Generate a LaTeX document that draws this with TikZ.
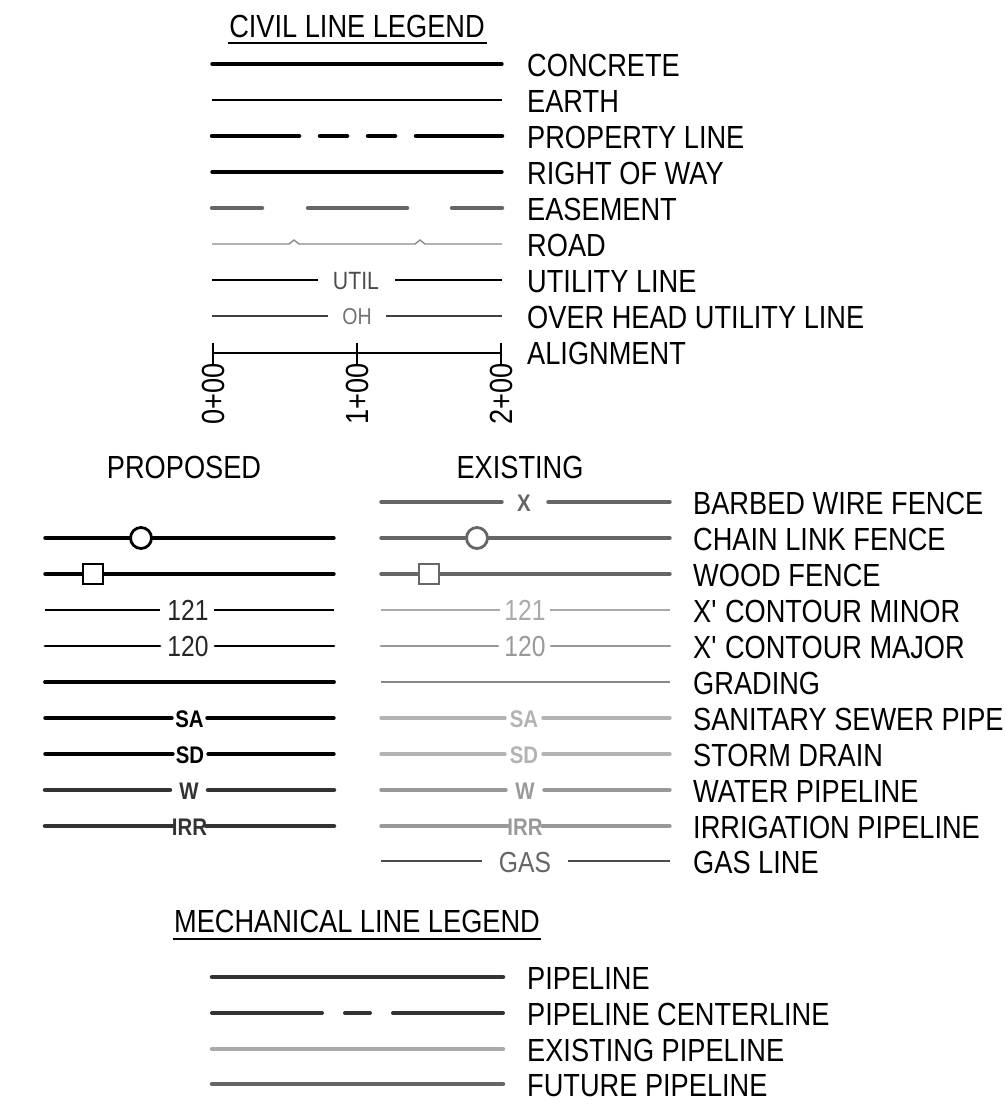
\documentclass[tikz,border=0pt]{standalone}
\usepackage{fontspec}
\setmainfont{Liberation Sans}[FakeStretch=0.85]
\definecolor{gA}{HTML}{666666}
\definecolor{gB}{HTML}{888888}
\definecolor{gC}{HTML}{999999}
\definecolor{gD}{HTML}{AAAAAA}
\definecolor{gE}{HTML}{B3B3B3}
\definecolor{dk}{HTML}{333333}
\begin{document}
\begin{tikzpicture}[x=1pt,y=-1pt,
  lbl/.style={anchor=base west, inner sep=0, font=\fontsize{32}{36}\selectfont},
  hdr/.style={anchor=base, inner sep=0, font=\fontsize{32}{36}\selectfont},
  num/.style={anchor=base, inner sep=0, font=\fontsize{29}{32}\selectfont},
  sml/.style={anchor=base, inner sep=0, font=\fontsize{25}{28}\selectfont},
  bld/.style={anchor=base, inner sep=0, font=\bfseries\fontsize{24}{27}\selectfont},
  thk/.style={line width=3.4pt, line cap=round},
  hvy/.style={line width=4.5pt, line cap=round},
  thn/.style={line width=1.5pt},
  sym/.style={line width=2.8pt, fill=white},
]
\useasboundingbox (0,0) rectangle (1005,1106);

% ---------------- CIVIL LINE LEGEND ----------------
\node[hdr] (civil) at (357,37) {CIVIL LINE LEGEND};
\draw[line width=1.6pt] (228,43) -- (487,43);

% concrete
\draw[thk] (212,64) -- (502,64);
\node[lbl] (t1) at (527,76) {CONCRETE};
% earth
\draw[line width=1.8pt] (212,100) -- (502,100);
\node[lbl] (t2) at (527,112) {EARTH};
% property line
\draw[hvy] (212,136) -- (299,136) (320,136) -- (347,136) (368,136) -- (395,136) (416,136) -- (502,136);
\node[lbl] (t3) at (527,148) {PROPERTY LINE};
% right of way
\draw[thk] (212,172) -- (502,172);
\node[lbl] (t4) at (527,184) {RIGHT OF WAY};
% easement
\draw[hvy, gA] (212,208) -- (262,208) (308,208) -- (407,208) (452,208) -- (502,208);
\node[lbl] (t5) at (527,220) {EASEMENT};
% road
\draw[line width=1.4pt, gB] (212,244) -- (289,244) -- (294,240) -- (299,244) -- (415,244) -- (420,240) -- (425,244) -- (502,244);
\node[lbl] (t6) at (527,256) {ROAD};
% utility line
\node[sml, text=black!70] (util) at (356,289) {UTIL};
\draw[thn] (212,280) -- (318,280) (395,280) -- (502,280);
\node[lbl] (t7) at (527,292) {UTILITY LINE};
% overhead
\node[sml, font=\fontsize{23}{26}\selectfont, text=black!55] (oh) at (357,324) {OH};
\draw[line width=1.3pt, black!75] (212,316) -- (328,316) (386,316) -- (502,316);
\node[lbl] (t8) at (527,328) {OVER HEAD UTILITY LINE};
% alignment
\draw[line width=1.7pt] (213,353) -- (501,353);
\draw[line width=1.7pt] (213,343) -- (213,364) (357,343) -- (357,364) (501,343) -- (501,364);
\node[rotate=90, anchor=east, inner sep=0, font=\fontsize{32}{36}\selectfont] (s0) at (213,363) {0+00};
\node[rotate=90, anchor=east, inner sep=0, font=\fontsize{32}{36}\selectfont] (s1) at (357,363) {1+00};
\node[rotate=90, anchor=east, inner sep=0, font=\fontsize{32}{36}\selectfont] (s2) at (501,363) {2+00};
\node[lbl] (t9) at (527,364) {ALIGNMENT};

% ---------------- PROPOSED / EXISTING ----------------
\node[hdr] (prop) at (184,478) {PROPOSED};
\node[hdr] (exis) at (520,478) {EXISTING};

% barbed wire (existing only)
\draw[thk, gA] (381,502) -- (502,502) (548,502) -- (670,502);
\node[bld, text=gA] (bx) at (524,511) {X};
\node[lbl] (m1) at (693,514) {BARBED WIRE FENCE};

% chain link
\draw[thk] (45,538) -- (334,538);
\draw[sym] (141,538) circle (10.5);
\draw[thk, gA] (381,538) -- (670,538);
\draw[sym, draw=gA] (477,538) circle (10.5);
\node[lbl] (m2) at (693,550) {CHAIN LINK FENCE};

% wood fence
\draw[thk] (45,574) -- (334,574);
\draw[sym] (83,564) rectangle (103,584);
\draw[thk, gA] (381,574) -- (670,574);
\draw[sym, draw=gA] (419,564) rectangle (439,584);
\node[lbl] (m3) at (693,586) {WOOD FENCE};

% contour minor
\draw[line width=1.3pt] (45,610) -- (160,610) (214,610) -- (334,610);
\node[num, text=black!85] (p121) at (188,620) {121};
\draw[line width=1.3pt, gD] (381,610) -- (500,610) (550,610) -- (670,610);
\node[num, text=gD] (e121) at (525,620) {121};
\node[lbl] (m4) at (693,622) {X\textquotesingle{} CONTOUR MINOR};

% contour major
\draw[line width=2.8pt, line cap=round] (45,646) -- (160,646) (215,646) -- (334,646);
\node[num, text=black!85] (p120) at (188,656) {120};
\draw[line width=2.8pt, line cap=round, gC] (381,646) -- (498,646) (551,646) -- (670,646);
\node[num, text=gC] (e120) at (525,656) {120};
\node[lbl] (m5) at (693,658) {X\textquotesingle{} CONTOUR MAJOR};

% grading
\draw[line width=3.8pt, line cap=round] (45,682) -- (334,682);
\draw[line width=1.4pt, gB] (381,682) -- (670,682);
\node[lbl] (m6) at (693,694) {GRADING};

% sanitary sewer
\draw[thk] (45,718) -- (172,718) (207,718) -- (334,718);
\node[bld] (psa) at (189.5,727) {SA};
\draw[thk, gE] (381,718) -- (505,718) (543,718) -- (670,718);
\node[bld, text=gE] (esa) at (524,727) {SA};
\node[lbl] (m7) at (693,730) {SANITARY SEWER PIPE};

% storm drain
\draw[thk] (45,754) -- (173,754) (208,754) -- (334,754);
\node[bld] (psd) at (190,763) {SD};
\draw[thk, gE] (381,754) -- (505,754) (543,754) -- (670,754);
\node[bld, text=gE] (esd) at (524,763) {SD};
\node[lbl] (m8) at (693,766) {STORM DRAIN};

% water
\draw[hvy, dk] (45,790) -- (170,790) (208,790) -- (334,790);
\node[bld, text=dk] (pw) at (189,799) {W};
\draw[thk, gC] (381,790) -- (506,790) (544,790) -- (670,790);
\node[bld, text=gC] (ew) at (525,799) {W};
\node[lbl] (m9) at (693,802) {WATER PIPELINE};

% irrigation
\draw[hvy, dk] (45,826) -- (173,826) (206,826) -- (334,826);
\node[bld, text=dk] (pirr) at (189.5,835) {IRR};
\draw[thk, gC] (381,826) -- (508,826) (542,826) -- (670,826);
\node[bld, text=gC] (eirr) at (525,835) {IRR};
\node[lbl] (m10) at (693,838) {IRRIGATION PIPELINE};

% gas
\draw[line width=1.3pt, black!70] (381,861) -- (482,861) (568,861) -- (670,861);
\node[num, text=black!60] (gas) at (525,872) {GAS};
\node[lbl] (m11) at (693,873) {GAS LINE};

% ---------------- MECHANICAL LINE LEGEND ----------------
\node[hdr] (mech) at (357,932) {MECHANICAL LINE LEGEND};
\draw[line width=1.6pt] (173,939) -- (541,939);

\draw[hvy, dk] (212,977) -- (503,977);
\node[lbl] (b1) at (527,989) {PIPELINE};
\draw[line width=4pt, line cap=round, dk] (212,1013) -- (322,1013) (345,1013) -- (370,1013) (393,1013) -- (503,1013);
\node[lbl] (b2) at (527,1025) {PIPELINE CENTERLINE};
\draw[hvy, gD] (212,1049) -- (503,1049);
\node[lbl] (b3) at (527,1061) {EXISTING PIPELINE};
\draw[hvy, gA] (212,1084) -- (503,1084);
\node[lbl] (b4) at (527,1096) {FUTURE PIPELINE};
\end{tikzpicture}
\end{document}
